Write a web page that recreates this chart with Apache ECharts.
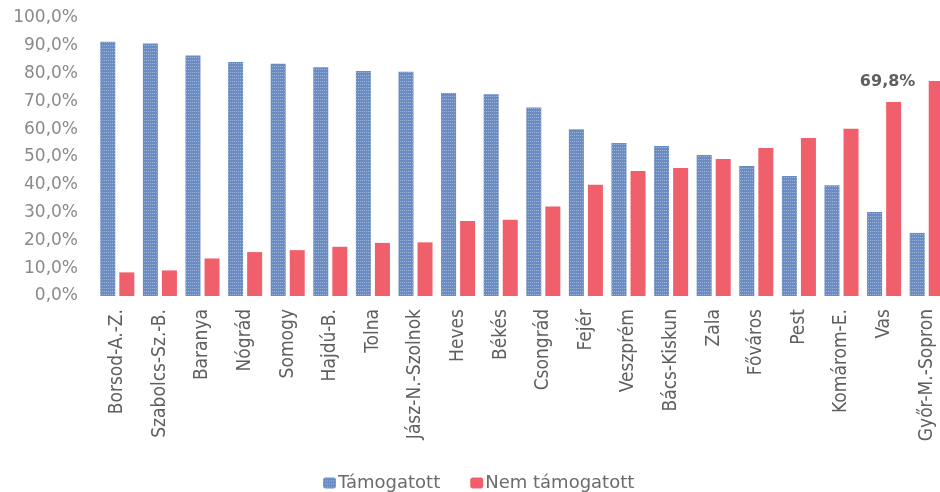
<!DOCTYPE html>
<html><head><meta charset="utf-8">
<script src="https://cdn.jsdelivr.net/npm/echarts@6/dist/echarts.min.js"></script>
<style>html,body{margin:0;padding:0;background:#fff}#c{width:940px;height:492px}</style>
</head><body><div id="c"></div>
<script>
const categories = ['Borsod-A.-Z.','Szabolcs-Sz.-B.','Baranya','Nógrád','Somogy','Hajdú-B.','Tolna','Jász-N.-Szolnok','Heves','Békés','Csongrád','Fejér','Veszprém','Bács-Kiskun','Zala','Főváros','Pest','Komárom-E.','Vas','Győr-M.-Sopron'];
const tamogatott = [91.5,90.8,86.5,84.2,83.5,82.3,80.9,80.7,73.0,72.6,67.8,60.0,55.0,54.0,50.7,46.8,43.2,39.8,30.2,22.7];
const nemTamogatott = [8.5,9.2,13.5,15.8,16.5,17.7,19.1,19.3,27.0,27.4,32.2,40.0,45.0,46.0,49.3,53.2,56.8,60.2,69.8,77.3];
const highlightIndex = 18;
const yTicks = [0,10,20,30,40,50,60,70,80,90,100];

const WIDE = 'DejaVu Sans';
const NARROW = '"Liberation Sans Narrow", "DejaVu Sans Condensed", Lato';
const chart = echarts.init(document.getElementById('c'));
const fmt = v => v.toFixed(1).replace('.', ',') + '%';
chart.setOption({
  animation: false,
  textStyle: {fontFamily: WIDE},
  grid: {left: 96, top: 18, height: 278, width: 852, containLabel: false, outerBoundsMode: 'none'},
  legend: {
    top: 469, left: 318, itemWidth: 13, itemHeight: 11, itemGap: 30,
    textStyle: {fontFamily: WIDE, fontSize: 18, color: '#6b6b6b', padding: [0, 0, 0, -3]},
    data: ['Támogatott', 'Nem támogatott']
  },
  xAxis: {
    type: 'category', data: categories,
    axisLine: {show: false}, axisTick: {show: false},
    axisLabel: {rotate: 90, margin: 13, interval: 0, fontSize: 19, color: '#5f5f5f', fontFamily: NARROW}
  },
  yAxis: {
    type: 'value', min: yTicks[0], max: yTicks[yTicks.length - 1], interval: 10,
    splitLine: {show: false}, axisLine: {show: false}, axisTick: {show: false},
    axisLabel: {formatter: fmt, fontSize: 17, color: '#8a8a8a', margin: 18, fontFamily: WIDE}
  },
  series: [
    {
      name: 'Támogatott', type: 'bar', data: tamogatott, barWidth: 15, barGap: '27%',
      itemStyle: {
        color: '#6a8cc3',
        decal: {symbol: 'rect', symbolSize: 1, dashArrayX: [1, 1], dashArrayY: [1, 2], color: 'rgba(255,255,255,0.35)'}
      }
    },
    {
      name: 'Nem támogatott', type: 'bar', barWidth: 15,
      data: nemTamogatott.map((v, i) => i === highlightIndex ? {
        value: v,
        label: {show: true, position: 'top', distance: 12, offset: [-6, 0], formatter: p => fmt(p.value), fontWeight: 'bold', fontSize: 16, color: '#5f5f5f', fontFamily: WIDE}
      } : v),
      itemStyle: {color: '#f0606c'}
    }
  ]
});
</script></body></html>
